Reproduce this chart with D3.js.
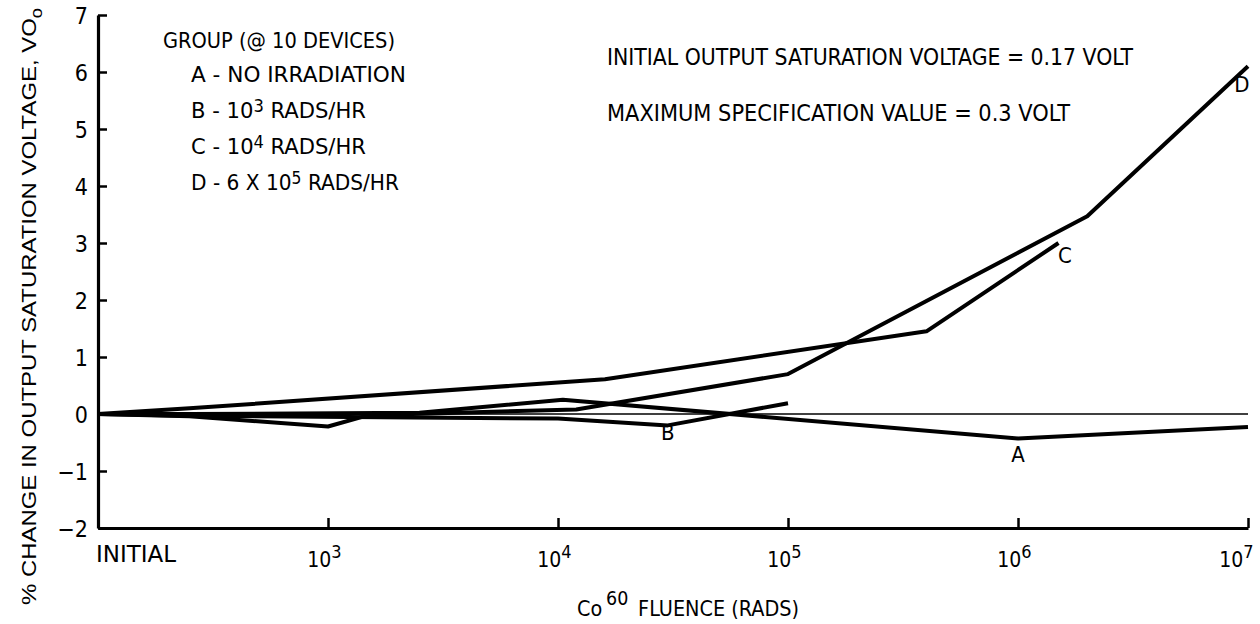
<!DOCTYPE html>
<html>
<head>
<meta charset="utf-8">
<script src="https://cdn.jsdelivr.net/npm/d3@7"></script>
<style>
  body { margin: 0; background: #fff; }
  text { fill: #000; font-family: 'Liberation Sans Narrow', 'DejaVu Sans Condensed', 'Roboto Condensed', 'Liberation Sans', sans-serif; }
</style>
</head>
<body>
<script>
const width = 1260;
const height = 624;

// fluence (rads), INITIAL plotted at 1e2
const seriesA = [[100, 0], [250, 0], [2500, 0.02], [10500, 0.25], [1e6, -0.43], [1e7, -0.23]];
const seriesB = [[100, 0], [250, -0.03], [10000, -0.08], [30000, -0.2], [1e5, 0.19]];
const seriesC = [[100, 0], [250, 0.1], [16000, 0.61], [400000, 1.45], [1.5e6, 3.0]];
const seriesD = [[100, 0], [250, -0.04], [1000, -0.22], [1500, -0.02], [12000, 0.08], [1e5, 0.7], [2e6, 3.47], [1e7, 6.1]];
const seriesNames = ["A", "B", "C", "D"];

const yTicks = [-2, -1, 0, 1, 2, 3, 4, 5, 6, 7];
const xTicks = [1e3, 1e4, 1e5, 1e6, 1e7];
const xTickExp = ["3", "4", "5", "6", "7"];

const legendRows = [
    {txt: "A - NO IRRADIATION"},
    {txt: "B - 10", sup: "3", rest: " RADS/HR"},
    {txt: "C - 10", sup: "4", rest: " RADS/HR"},
    {txt: "D - 6 X 10", sup: "5", rest: " RADS/HR"}
];

const x = d3.scaleLog().domain([100, 1e7]).range([98, 1248]);
const y = d3.scaleLinear().domain([-2, 7]).range([528, 15]);

const svg = d3.select("body")
    .append("svg")
    .attr("width", width)
    .attr("height", height);

// zero reference line
svg.append("line")
    .attr("x1", x(100)).attr("x2", x(1e7))
    .attr("y1", y(0)).attr("y2", y(0))
    .style("stroke", "#000")
    .style("stroke-width", 1.6);

// y axis, ticks pointing inward
const yAxis = svg.append("g")
    .attr("transform", `translate(${x(100)},0)`)
    .call(d3.axisLeft(y).tickValues(yTicks).tickSizeInner(-9).tickSizeOuter(0).tickPadding(10));
yAxis.select(".domain").style("stroke-width", 3.2);
yAxis.selectAll(".tick line").style("stroke-width", 2.5);
yAxis.selectAll(".tick text")
    .style("font-size", "23px")
    .style("font-family", null)
    .attr("dy", "0.36em");

// x axis, ticks pointing up
const xAxis = svg.append("g")
    .attr("transform", `translate(0,${y(-2)})`)
    .call(d3.axisBottom(x).tickValues(xTicks).tickSizeInner(-10).tickSizeOuter(0).tickFormat(""));
xAxis.select(".domain").style("stroke-width", 2.8);
xAxis.selectAll(".tick line").style("stroke-width", 2.5);
xAxis.selectAll(".tick").each(function(d, i) {
    const last = i === xTicks.length - 1;
    const t = d3.select(this).append("text")
        .attr("x", last ? 5 : 13)
        .attr("y", 39)
        .attr("text-anchor", "end")
        .style("font-size", "21px")
        .style("font-family", null);
    t.append("tspan").text("10");
    t.append("tspan").attr("dy", -9).style("font-size", "18px").text(xTickExp[i]);
});
svg.append("text")
    .attr("x", 96).attr("y", 562)
    .style("font-size", "23px")
    .attr("textLength", 80)
    .attr("lengthAdjust", "spacingAndGlyphs")
    .text("INITIAL");

// data lines
const line = d3.line().x(d => x(d[0])).y(d => y(d[1]));
svg.selectAll("path.series")
    .data([seriesA, seriesB, seriesC, seriesD])
    .enter()
    .append("path")
    .attr("class", "series")
    .attr("d", line)
    .style("fill", "none")
    .style("stroke", "#000")
    .style("stroke-width", 4)
    .style("stroke-linejoin", "round");

// curve labels
const labelPos = [[1e6, -0.85], [30000, -0.45], [1.6e6, 2.65], [9.4e6, 5.65]];
svg.selectAll("text.curve")
    .data(seriesNames)
    .enter()
    .append("text")
    .attr("class", "curve")
    .attr("x", (d, i) => x(labelPos[i][0]))
    .attr("y", (d, i) => y(labelPos[i][1]))
    .attr("text-anchor", "middle")
    .style("font-size", "22px")
    .text(d => d);

// legend
svg.append("text")
    .attr("x", 163).attr("y", 48)
    .style("font-size", "22px")
    .attr("textLength", 232)
    .attr("lengthAdjust", "spacingAndGlyphs")
    .text("GROUP (@ 10 DEVICES)");

const legendY = [82, 118, 154, 190];
const legendW = [215, 175, 175, 208];
legendRows.forEach((r, i) => {
    const t = svg.append("text")
        .attr("x", 191).attr("y", legendY[i])
        .style("font-size", "22px")
        .attr("textLength", legendW[i])
        .attr("lengthAdjust", "spacingAndGlyphs");
    t.append("tspan").text(r.txt);
    if (r.sup) {
        t.append("tspan").attr("dy", -6).style("font-size", "17px").text(r.sup);
        t.append("tspan").attr("dy", 6).text(r.rest);
    }
});

// notes
svg.append("text")
    .attr("x", 607).attr("y", 65)
    .style("font-size", "23px")
    .attr("textLength", 526)
    .attr("lengthAdjust", "spacingAndGlyphs")
    .text("INITIAL OUTPUT SATURATION VOLTAGE = 0.17 VOLT");
svg.append("text")
    .attr("x", 607).attr("y", 121)
    .style("font-size", "23px")
    .attr("textLength", 463)
    .attr("lengthAdjust", "spacingAndGlyphs")
    .text("MAXIMUM SPECIFICATION VALUE = 0.3 VOLT");

// axis titles
const xt = svg.append("text")
    .attr("x", 577).attr("y", 616)
    .style("font-size", "22px")
    .attr("textLength", 222)
    .attr("lengthAdjust", "spacingAndGlyphs");
xt.append("tspan").text("Co");
xt.append("tspan").attr("dx", 4).attr("dy", -11).style("font-size", "20px").text("60");
xt.append("tspan").attr("dx", 10).attr("dy", 11).text("FLUENCE (RADS)");

const yt = svg.append("text")
    .attr("transform", "translate(36,605) rotate(-90)")
    .style("font-size", "21px")
    .style("font-family", "'Liberation Sans', Arial, sans-serif")
    .attr("textLength", 597)
    .attr("lengthAdjust", "spacingAndGlyphs");
yt.append("tspan").text("% CHANGE IN OUTPUT SATURATION VOLTAGE, VO");
yt.append("tspan").attr("dy", 6).style("font-size", "16px").text("o");
</script>
</body>
</html>
